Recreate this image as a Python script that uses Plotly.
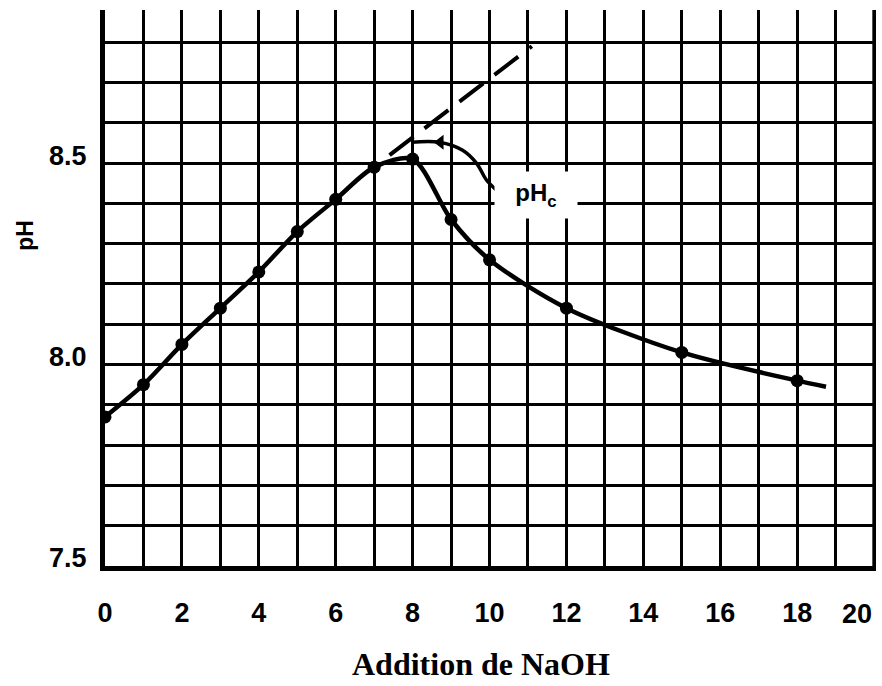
import plotly.graph_objects as go

# ---- data ----
naoh = [0, 1, 2, 3, 4, 5, 6, 7, 8, 9, 10, 12, 15, 18]
ph = [7.87, 7.95, 8.05, 8.14, 8.23, 8.33, 8.41, 8.49, 8.51, 8.36, 8.26, 8.14, 8.03, 7.96]

# hand-drawn curve continues a little past the last point
curve_tail_x = [18.75]
curve_tail_ph = [7.945]

# dashed extrapolation of the rising branch
extrap_x = [7.4, 11.1]
extrap_ph = [8.52, 8.79]

# curved pointer for the pHc label
pointer_x = [7.97, 8.7, 9.3, 9.66, 9.92, 10.18]
pointer_ph = [8.552, 8.552, 8.532, 8.50, 8.458, 8.433]
arrowhead_x = [8.72]
arrowhead_ph = [8.552]

x_grid = list(range(0, 21))
x_tick_text = ["0", "", "2", "", "4", "", "6", "", "8", "", "10", "", "12", "", "14", "",
               "16", "", "18", "", "20"]
y_grid = [7.5, 7.6, 7.7, 7.8, 7.9, 8.0, 8.1, 8.2, 8.3, 8.4, 8.5, 8.6, 8.7, 8.8]
y_tick_text = ["7.5", "", "", "", "", "8.0", "", "", "", "", "8.5", "", "", ""]
y_range = [7.5, 8.88]

sans = "Liberation Sans, Arial, sans-serif"
serif = "Liberation Serif, Times New Roman, serif"
tick_font = dict(family=sans, size=27, color="black", weight="bold")

fig = go.Figure()

# right-hand grid line (x = 20) drawn as a plain line trace
fig.add_trace(go.Scatter(
    x=[x_grid[-1], x_grid[-1]], y=y_range, mode="lines",
    line=dict(color="black", width=3.5),
    hoverinfo="skip", showlegend=False, cliponaxis=False))

fig.add_trace(go.Scatter(
    x=extrap_x, y=extrap_ph, mode="lines",
    line=dict(color="black", width=4, dash="30px,14px"),
    hoverinfo="skip", showlegend=False))

fig.add_trace(go.Scatter(
    x=pointer_x, y=pointer_ph, mode="lines",
    line=dict(color="black", width=3.5, shape="spline", smoothing=1.0),
    hoverinfo="skip", showlegend=False))

fig.add_trace(go.Scatter(
    x=arrowhead_x, y=arrowhead_ph, mode="markers",
    marker=dict(symbol="triangle-left", size=13, color="black"),
    hoverinfo="skip", showlegend=False))

fig.add_trace(go.Scatter(
    x=naoh + curve_tail_x, y=ph + curve_tail_ph, mode="lines",
    line=dict(color="black", width=4.5, shape="spline", smoothing=0.8),
    hoverinfo="skip", showlegend=False))

fig.add_trace(go.Scatter(
    x=naoh, y=ph, mode="markers",
    marker=dict(color="black", size=13),
    showlegend=False))

# last x label is placed by hand so it stays inside the page (as in the reference)
last_label = x_tick_text[-1]
axis_tick_text = x_tick_text[:-1] + [""]

fig.update_layout(
    width=882, height=686,
    margin=dict(l=105, r=6, t=10, b=120),
    paper_bgcolor="white", plot_bgcolor="white",
    xaxis=dict(
        range=[0, 20.05], tickmode="array", tickvals=x_grid, ticktext=axis_tick_text,
        showgrid=True, gridcolor="black", gridwidth=3,
        showline=True, linecolor="black", linewidth=5,
        zeroline=False, ticks="", ticklabelstandoff=19,
        tickfont=tick_font,
    ),
    yaxis=dict(
        range=y_range, tickmode="array", tickvals=y_grid, ticktext=y_tick_text,
        showgrid=True, gridcolor="black", gridwidth=3,
        showline=True, linecolor="black", linewidth=5,
        zeroline=False, ticks="", ticklabelstandoff=8, ticklabelshift=-8,
        tickfont=tick_font,
    ),
    annotations=[
        dict(text=last_label, xref="x", yref="paper", x=x_grid[-1], y=-0.087,
             xanchor="right", yanchor="middle", showarrow=False, font=tick_font),
        dict(text="Addition de NaOH", xref="paper", yref="paper",
             x=0.488, y=-0.213, xanchor="center", yanchor="bottom", showarrow=False,
             font=dict(family=serif, size=32, color="black", weight="bold")),
        dict(text="pH", xref="paper", yref="paper", textangle=-90,
             x=-0.103, y=0.595, xanchor="center", yanchor="middle", showarrow=False,
             font=dict(family=sans, size=23, color="black", weight="bold")),
        dict(text="pH<sub>c</sub>", xref="x", yref="y",
             x=11.2, y=8.42, xanchor="center", yanchor="middle", showarrow=False,
             bgcolor="white", width=80, height=44,
             font=dict(family=sans, size=24, color="black", weight="bold")),
    ],
)

fig.write_html("out.html")
